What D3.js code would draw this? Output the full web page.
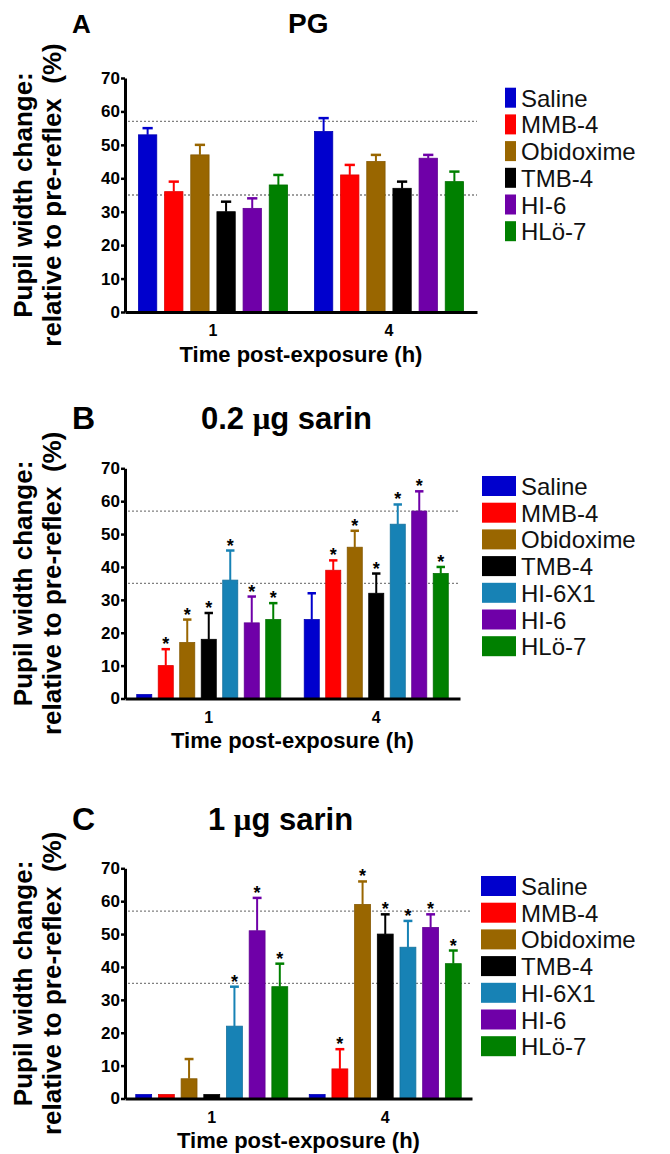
<!DOCTYPE html>
<html>
<head>
<meta charset="utf-8">
<script src="https://cdn.jsdelivr.net/npm/d3@7"></script>
<style>
  html, body { margin: 0; padding: 0; background: #ffffff; }
  svg { display: block; }
  text { font-family: "Liberation Sans", Arial, sans-serif; }
</style>
</head>
<body>
<svg id="chart" width="670" height="1154"></svg>
<script>
// ---------------- DATA ----------------
const times = ["1", "4"];
const seriesA = ["Saline", "MMB-4", "Obidoxime", "TMB-4", "HI-6", "HLö-7"];
const seriesBC = ["Saline", "MMB-4", "Obidoxime", "TMB-4", "HI-6X1", "HI-6", "HLö-7"];
const yTicks = [0, 10, 20, 30, 40, 50, 60, 70];
const refLines = [57, 35];

// Panel A (PG)
const meanA_1h = [53, 36, 47, 30, 31, 38];
const semA_1h  = [2, 3, 3, 3, 3, 3];
const meanA_4h = [54, 41, 45, 37, 46, 39];
const semA_4h  = [4, 3, 2, 2, 1, 3];
const sigA_1h  = [0, 0, 0, 0, 0, 0];
const sigA_4h  = [0, 0, 0, 0, 0, 0];

// Panel B (0.2 ug sarin)
const meanB_1h = [1.2, 10, 17, 18, 36, 23, 24];
const semB_1h  = [0, 5, 7, 8, 9, 8, 5];
const meanB_4h = [24, 39, 46, 32, 53, 57, 38];
const semB_4h  = [8, 3, 5, 6, 6, 6, 2];
const sigB_1h  = [0, 1, 1, 1, 1, 1, 1];
const sigB_4h  = [0, 1, 1, 1, 1, 1, 1];

// Panel C (1 ug sarin)
const meanC_1h = [1.2, 1.2, 6, 1.2, 22, 51, 34];
const semC_1h  = [0, 0, 6, 0, 12, 10, 7];
const meanC_4h = [1.2, 9, 59, 50, 46, 52, 41];
const semC_4h  = [0, 6, 7, 6, 8, 4, 4];
const sigC_1h  = [0, 0, 0, 0, 1, 1, 1];
const sigC_4h  = [0, 1, 1, 1, 1, 1, 1];

const colorOf = {
  "Saline": "#0000cd",
  "MMB-4": "#ff0000",
  "Obidoxime": "#996600",
  "TMB-4": "#000000",
  "HI-6X1": "#1782b5",
  "HI-6": "#6f00a8",
  "HLö-7": "#008000"
};

// ---------------- LAYOUT ----------------
const panels = [
  { letter: "A", title: ["PG"], series: seriesA,
    means: [meanA_1h, meanA_4h], sems: [semA_1h, semA_4h], sigs: [sigA_1h, sigA_4h],
    x0: 125, x1: 477, yTop: 78, yBot: 312, pad: 0.153,
    titleY: 33, titleX: 288, titleSize: 28, letterSize: 26,
    legX: 505, legW: 11, legY0: 87.7 },
  { letter: "B", title: ["0.2 ", "μ", "g sarin"], series: seriesBC,
    means: [meanB_1h, meanB_4h], sems: [semB_1h, semB_4h], sigs: [sigB_1h, sigB_4h],
    x0: 125, x1: 460, yTop: 468.3, yBot: 698.5, pad: 0.14,
    titleY: 429, titleX: 201, titleSize: 31, letterSize: 32,
    legX: 482, legW: 34, legY0: 476 },
  { letter: "C", title: ["1 ", "μ", "g sarin"], series: seriesBC,
    means: [meanC_1h, meanC_4h], sems: [semC_1h, semC_4h], sigs: [sigC_1h, sigC_4h],
    x0: 125, x1: 472, yTop: 868.3, yBot: 1098.5, pad: 0.124,
    titleY: 830, titleX: 208, titleSize: 31, letterSize: 32,
    legX: 481, legW: 35, legY0: 876 }
];

const svg = d3.select("#chart");

panels.forEach(p => {
  const g = svg.append("g");

  const y = d3.scaleLinear().domain([0, 70]).range([p.yBot, p.yTop]);
  const xOuter = d3.scaleBand().domain(times).range([p.x0, p.x1])
    .paddingInner(p.pad).paddingOuter(p.pad / 2);
  const xInner = d3.scaleBand().domain(p.series).range([0, xOuter.bandwidth()])
    .paddingInner(0.3).paddingOuter(0);

  // Panel letter & title
  g.append("text").attr("x", 72).attr("y", p.titleY)
    .attr("font-size", p.letterSize).attr("font-weight", "bold").text(p.letter);
  const t = g.append("text").attr("x", p.titleX).attr("y", p.titleY)
    .attr("font-size", p.titleSize).attr("font-weight", "bold");
  p.title.forEach(s => {
    const ts = t.append("tspan").text(s);
    if (s === "μ") ts.attr("font-family", "'Liberation Serif', 'DejaVu Serif', serif");
  });

  // reference dotted lines
  refLines.forEach(v => {
    g.append("line").attr("x1", p.x0 + 3).attr("x2", p.x1)
      .attr("y1", y(v)).attr("y2", y(v))
      .attr("stroke", "#808080").attr("stroke-width", 1.3)
      .attr("stroke-dasharray", "2,2");
  });

  // bars
  times.forEach((tm, ti) => {
    const gx = xOuter(tm);
    p.series.forEach((s, si) => {
      const m = p.means[ti][si], e = p.sems[ti][si], sig = p.sigs[ti][si];
      const bx = gx + xInner(s), bw = xInner.bandwidth(), cx = bx + bw / 2;
      const col = colorOf[s];
      g.append("rect").attr("x", bx).attr("y", y(m))
        .attr("width", bw).attr("height", y(0) - y(m)).attr("fill", col)
        .attr("stroke", d3.color(col).darker(0.4)).attr("stroke-width", 0.8);
      if (e > 0) {
        g.append("line").attr("x1", cx).attr("x2", cx)
          .attr("y1", y(m)).attr("y2", y(m + e))
          .attr("stroke", col).attr("stroke-width", 2);
        g.append("line").attr("x1", cx - bw * 0.28).attr("x2", cx + bw * 0.28)
          .attr("y1", y(m + e)).attr("y2", y(m + e))
          .attr("stroke", col).attr("stroke-width", 2.5);
      }
      if (sig) {
        g.append("text").attr("x", cx).attr("y", y(m + e) + 1)
          .attr("text-anchor", "middle").attr("font-size", 18)
          .attr("font-weight", "bold").text("*");
      }
    });
  });

  // Y axis
  const ya = g.append("g").attr("transform", `translate(${p.x0},0)`)
    .call(d3.axisLeft(y).tickValues(yTicks).tickSize(4).tickSizeOuter(0).tickPadding(1));
  ya.select(".domain").attr("stroke-width", 3);
  ya.selectAll(".tick line").attr("stroke-width", 2.5);
  ya.selectAll(".tick text").attr("font-size", 17).attr("font-weight", "bold")
    .attr("font-family", "'Liberation Sans', Arial, sans-serif").attr("fill", "#000");

  // X axis
  const xa = g.append("g").attr("transform", `translate(0,${p.yBot})`)
    .call(d3.axisBottom(xOuter).tickSize(0).tickSizeOuter(0).tickPadding(13));
  xa.select(".domain").attr("stroke-width", 3);
  xa.selectAll(".tick text").attr("font-size", 16).attr("font-weight", "bold")
    .attr("font-family", "'Liberation Sans', Arial, sans-serif").attr("fill", "#000");

  // X title
  g.append("text").attr("x", (p.x0 + p.x1) / 2).attr("y", p.yBot + 49.5)
    .attr("text-anchor", "middle").attr("font-size", 22).attr("font-weight", "bold")
    .text("Time post-exposure (h)");

  // Y title
  const yc = (p.yTop + p.yBot) / 2;
  g.append("text").attr("transform", `translate(32,${yc}) rotate(-90)`)
    .attr("text-anchor", "middle").attr("font-size", 26).attr("font-weight", "bold")
    .text("Pupil width change:");
  g.append("text").attr("transform", `translate(61,${yc}) rotate(-90)`)
    .attr("text-anchor", "middle").attr("font-size", 26).attr("font-weight", "bold")
    .style("white-space", "pre")
    .text("relative to pre-reflex  (%)");

  // Legend
  const step = 26.7;
  p.series.forEach((s, i) => {
    const ly = p.legY0 + i * step;
    g.append("rect").attr("x", p.legX).attr("y", ly).attr("width", p.legW).attr("height", 20)
      .attr("fill", colorOf[s]);
    g.append("text").attr("x", p.legX + p.legW + 5).attr("y", ly + 19)
      .attr("font-size", 24).attr("fill", "#111").text(s);
  });
});
</script>
</body>
</html>
